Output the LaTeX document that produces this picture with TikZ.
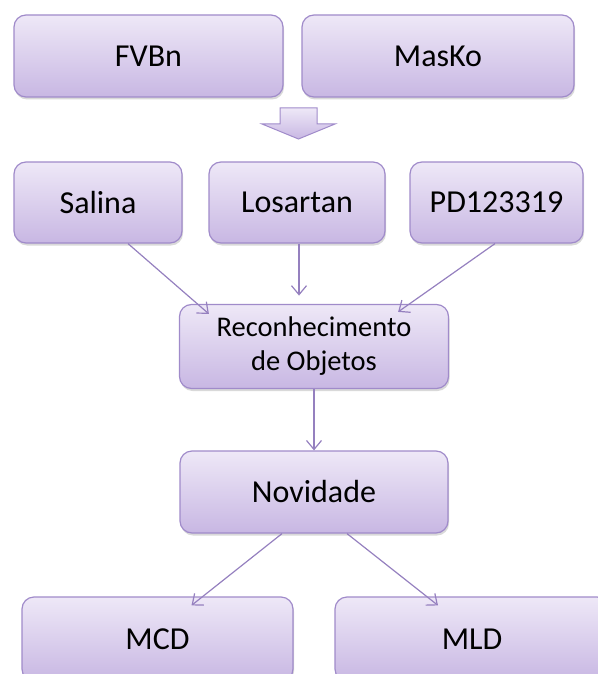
\documentclass[tikz,border=0pt]{standalone}
\usepackage{fontspec}
\setmainfont{Carlito}
\usetikzlibrary{arrows.meta,shadows,calc}
\definecolor{boxtop}{HTML}{EEE8F7}
\definecolor{boxbot}{HTML}{C8B7E3}
\definecolor{boxline}{HTML}{A08BCA}
\definecolor{arrline}{HTML}{9580BF}
\tikzset{
  box/.style={draw=boxline, line width=1.2pt, rounded corners=12pt,
    top color=boxtop, bottom color=boxbot, text=black,
    font=\fontsize{32}{36}\selectfont, align=center,
    drop shadow={shadow xshift=1pt, shadow yshift=-2.5pt, opacity=0.25, fill=black!60}},
  conn/.style={draw=arrline, line width=1.2pt, -{Straight Barb[length=9pt,width=15pt,line width=1.2pt]}}
}
\begin{document}
\begin{tikzpicture}[x=1pt,y=-1pt]
\useasboundingbox (0,0) rectangle (597,674);
\node[box, minimum width=269pt, minimum height=82pt] (fvbn) at (148.5,56) {FVBn};
\node[box, minimum width=272pt, minimum height=82pt] (masko) at (438,56) {MasKo};
% big arrow
\draw[boxline, line width=1pt, top color=boxtop, bottom color=boxbot]
  (280,108) -- (317,108) -- (317,124) -- (335,124) -- (298.5,139) -- (262,124) -- (280,124) -- cycle;
\node[box, minimum width=168pt, minimum height=81pt] (salina) at (98,202.5) {Salina};
\node[box, minimum width=176pt, minimum height=81pt] (losartan) at (297,202.5) {Losartan};
\node[box, minimum width=173pt, minimum height=81pt] (pd) at (496.5,202.5) {PD123319};
\node[box, minimum width=269pt, minimum height=84pt, font=\fontsize{28.5}{34}\selectfont] (reco) at (314,346.5) {Reconhecimento\\de Objetos};
\node[box, minimum width=268pt, minimum height=82pt] (nov) at (314,492) {Novidade};
\node[box, minimum width=271pt, minimum height=84pt] (mcd) at (157.5,639) {MCD};
\node[box, minimum width=274pt, minimum height=84pt] (mld) at (472,639) {MLD};
% connectors
\draw[conn] ($(salina.south)+(30,0)$) -- ($(reco.north west)+(30,10)$);
\draw[conn] ($(losartan.south)+(2,0)$) -- ($(losartan.south)+(2,52)$);
\draw[conn] ($(pd.south)+(-1.5,0)$) -- ($(reco.north east)+(-51,8)$);
\draw[conn] (reco.south) -- (nov.north);
\draw[conn] ($(nov.south)+(-32,0)$) -- ($(mcd.north)+(34,9)$);
\draw[conn] ($(nov.south)+(33,0)$) -- ($(mld.north)+(-34,9)$);
\end{tikzpicture}
\end{document}
